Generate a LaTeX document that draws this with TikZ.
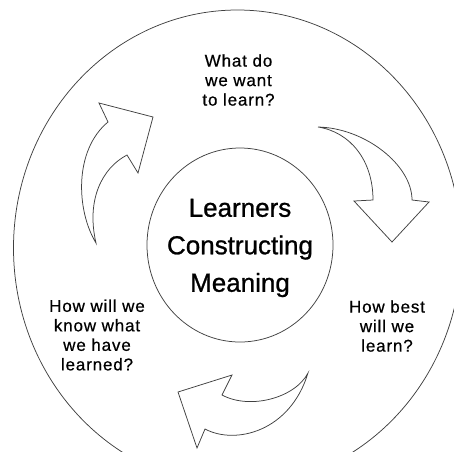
\documentclass[tikz,border=0pt]{standalone}
\usepackage{fontspec}
\usetikzlibrary{shapes.geometric}
\setmainfont{Liberation Sans}
\newfontfamily\lblfont[LetterSpace=5,FakeBold=0.6]{Liberation Sans}
\newfontfamily\corefont[FakeBold=0.9]{Liberation Sans}
\begin{document}
\begin{tikzpicture}[x=1pt,y=-1pt,
  ring/.style={draw=black!75,line width=0.75pt},
  bentarrow/.style={draw=black!75,line width=0.75pt,line join=miter,fill=white},
  lbl/.style={align=center,inner sep=0pt,font=\lblfont\fontsize{17}{19.5}\selectfont},
  core/.style={align=center,inner sep=0pt,font=\corefont\fontsize{26}{37.5}\selectfont}]
\useasboundingbox (0,0) rectangle (454,451);
\begin{scope}
\clip (0,0) rectangle (454,451);
\draw[ring] (237.5,248) ellipse [x radius=224, y radius=238];
\end{scope}
\node[ring,ellipse,minimum width=186pt,minimum height=194pt,inner sep=0pt] (hub) at (240,245) {};
\node[core] (meaning) at (240,248) {Learners\\Constructing\\Meaning};
\node[lbl] (want) at (238.5,80) {What do\\we want\\to learn?};
\node[lbl] (best) at (387,326) {How best\\will we\\learn?};
\node[lbl] (know) at (97,335) {How will we\\know what\\we have\\learned?};
% upper-left arrow
\draw[bentarrow] (96,243) .. controls (76,210) and (74,150) .. (108,122)
  -- (99,103) -- (153,117) -- (138,173) -- (127,155)
  .. controls (102,168) and (86,200) .. (96,243) -- cycle;
% upper-right arrow
\draw[bentarrow] (318,127) .. controls (365,128) and (412,165) .. (412,200)
  -- (429,202) -- (392,242) -- (354,201) -- (373,200)
  .. controls (373,160) and (350,132) .. (318,127) -- cycle;
% bottom arrow
\draw[bentarrow] (308,373) .. controls (295,398) and (250,410) .. (222,395)
  -- (232,375) -- (178,392) -- (197,448) -- (205,429)
  .. controls (235,445) and (290,432) .. (308,373) -- cycle;
\end{tikzpicture}
\end{document}
